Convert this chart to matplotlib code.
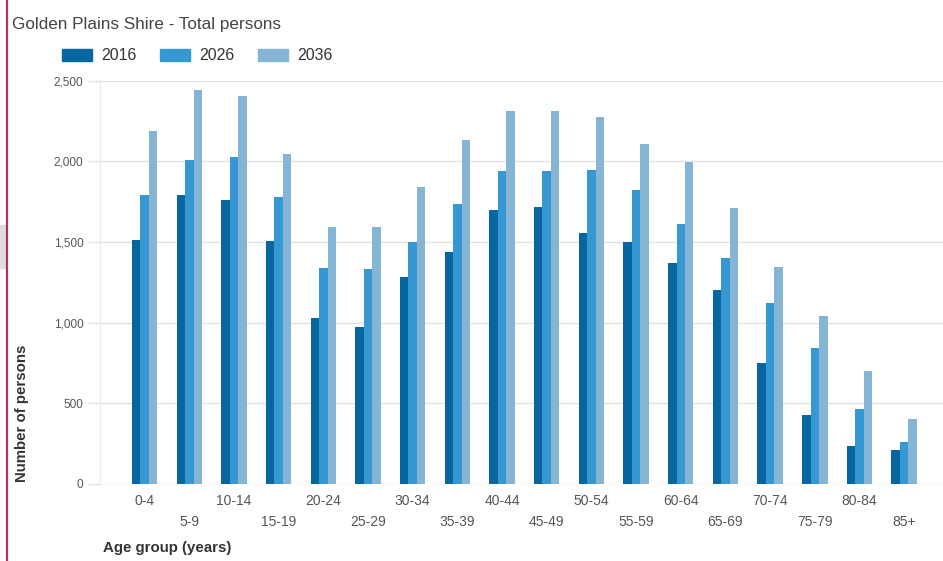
import matplotlib
matplotlib.use("Agg")
import matplotlib.pyplot as plt
from matplotlib.patches import Rectangle
from matplotlib.lines import Line2D
import numpy as np

age_groups = ["0-4", "5-9", "10-14", "15-19", "20-24", "25-29", "30-34", "35-39",
              "40-44", "45-49", "50-54", "55-59", "60-64", "65-69", "70-74",
              "75-79", "80-84", "85+"]
years = ["2016", "2026", "2036"]
pop_2016 = [1514, 1793, 1762, 1508, 1029, 973, 1283, 1436, 1696, 1720, 1553,
            1498, 1370, 1205, 751, 425, 235, 210]
pop_2026 = [1793, 2009, 2026, 1778, 1339, 1330, 1498, 1735, 1941, 1941, 1949,
            1823, 1609, 1399, 1124, 846, 464, 258]
pop_2036 = [2191, 2442, 2407, 2046, 1592, 1592, 1838, 2135, 2314, 2314, 2277,
            2108, 1993, 1712, 1345, 1044, 701, 406]
series = [pop_2016, pop_2026, pop_2036]
colors = ["#07659f", "#3598d2", "#85b4d4"]
yticks = [0, 500, 1000, 1500, 2000, 2500]

SANS = ["Liberation Sans", "DejaVu Sans"]
NARROW = ["Liberation Sans Narrow", "Liberation Sans", "DejaVu Sans"]

W, H = 943, 561
fig = plt.figure(figsize=(W / 100, H / 100), dpi=100)
fig.patch.set_facecolor("white")

# plot area in pixel coordinates
x0, x1 = 100, 943
ytop, ybot = 80.7, 484
ax = fig.add_axes([x0 / W, 1 - ybot / H, (x1 - x0) / W, (ybot - ytop) / H])
ax.set_facecolor("white")

n = len(age_groups)
x = np.arange(n)
bw = 0.19
for k, (vals, c) in enumerate(zip(series, colors)):
    ax.bar(x + (k - 1) * bw, vals, width=bw, color=c, linewidth=0, zorder=3)

ax.set_xlim(-1.0, 17.87)
ax.set_ylim(0, 2500)

ax.set_yticks(yticks)
ax.set_yticklabels([f"{v:,}" for v in yticks], family=NARROW, fontsize=8.5,
                   color="#555555")
ax.yaxis.grid(True, color="#e2e2e2", linewidth=1.0, zorder=0)
ax.tick_params(axis="y", length=9, width=1.0, color="#e2e2e2", pad=3)

ax.set_xticks(x)
ax.set_xticklabels([])
ax.tick_params(axis="x", length=0)
for i, lab in enumerate(age_groups):
    yoff = -0.026 if i % 2 == 0 else -0.078
    ax.text(i, yoff, lab, transform=ax.get_xaxis_transform(), ha="center",
            va="top", family=NARROW, fontsize=10, color="#555555")

for side in ["top", "right", "bottom"]:
    ax.spines[side].set_visible(False)
ax.spines["left"].set_color("#ececec")
ax.spines["left"].set_linewidth(1.0)

# title
fig.text(12 / W, 1 - 24 / H, "Golden Plains Shire - Total persons",
         family=SANS, fontsize=12.3, color="#444444", va="center", ha="left")

# legend
for px, lab, c in [(62, "2016", colors[0]), (160, "2026", colors[1]),
                   (258, "2036", colors[2])]:
    fig.patches.append(Rectangle((px / W, 1 - 61 / H), 30 / W, 12 / H,
                                 transform=fig.transFigure, color=c))
    fig.text((px + 39) / W, 1 - 55 / H, lab, family=SANS, fontsize=11.5,
             color="#333333", va="center", ha="left")

# axis titles
fig.text(22 / W, 1 - 482 / H, "Number of persons", rotation=90, family=SANS,
         fontsize=10.8, fontweight="bold", color="#333333", ha="center",
         va="bottom")
fig.text(103 / W, 1 - 548 / H, "Age group (years)", family=SANS, fontsize=10.8,
         fontweight="bold", color="#333333", ha="left", va="center")

# page frame details
fig.add_artist(Line2D([7 / W, 7 / W], [0, 1], transform=fig.transFigure,
                      color="#b03352", linewidth=1.6))
fig.patches.append(Rectangle((0, 1 - 268 / H), 6 / W, 43 / H,
                             transform=fig.transFigure, color="#dedede"))

fig.savefig("out.png", dpi=100, facecolor="white")
